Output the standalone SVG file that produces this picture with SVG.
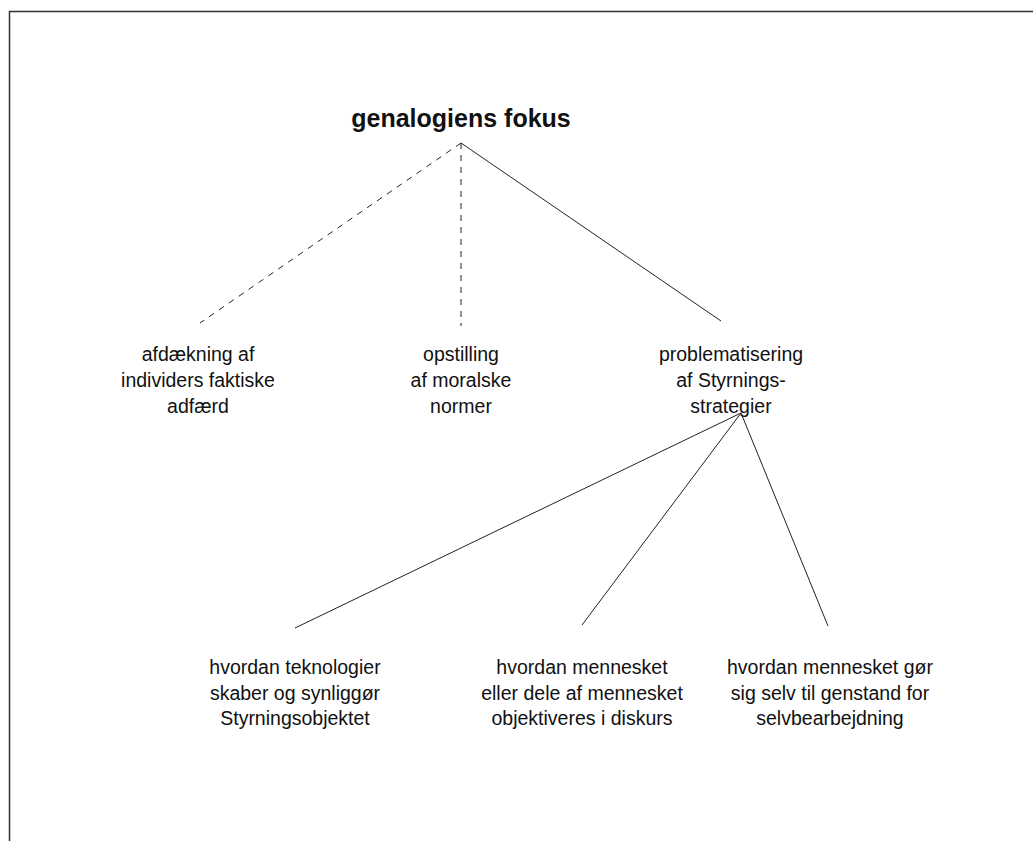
<svg xmlns="http://www.w3.org/2000/svg" width="1033" height="841" viewBox="0 0 1033 841">
<style>
.t{font-family:"Liberation Sans",Arial,sans-serif;font-size:19.5px;fill:#111;text-anchor:middle}
.h{font-family:"Liberation Sans",Arial,sans-serif;font-size:25px;font-weight:bold;fill:#111;text-anchor:middle}
.c{stroke:#222;stroke-width:1;fill:none}
.d{stroke-dasharray:6,6}
</style>
<rect width="1033" height="841" fill="#fff"/>
<g id="frame" stroke="#333" stroke-width="1.5" fill="none">
<line x1="9" y1="11.5" x2="1033" y2="11.5"/>
<line x1="9.5" y1="11" x2="9.5" y2="841"/>
</g>
<g id="connectors">
<line class="c d" x1="461" y1="143" x2="200" y2="323"/>
<line class="c d" x1="461" y1="143" x2="461" y2="326"/>
<line class="c" x1="461" y1="143" x2="721" y2="321"/>
<line class="c" x1="741" y1="413" x2="295" y2="628"/>
<line class="c" x1="741" y1="413" x2="582" y2="625"/>
<line class="c" x1="741" y1="413" x2="828" y2="626"/>
</g>
<g id="root"><text class="h" x="461" y="127">genalogiens fokus</text></g>
<g id="n1"><text class="t"><tspan x="198" y="361">afdækning af</tspan><tspan x="198" y="387">individers faktiske</tspan><tspan x="198" y="413">adfærd</tspan></text></g>
<g id="n2"><text class="t"><tspan x="461" y="361">opstilling</tspan><tspan x="461" y="387">af moralske</tspan><tspan x="461" y="413">normer</tspan></text></g>
<g id="n3"><text class="t"><tspan x="731" y="361">problematisering</tspan><tspan x="731" y="387">af Styrnings-</tspan><tspan x="731" y="413">strategier</tspan></text></g>
<g id="n4"><text class="t"><tspan x="295" y="674">hvordan teknologier</tspan><tspan x="295" y="700">skaber og synliggør</tspan><tspan x="295" y="725">Styrningsobjektet</tspan></text></g>
<g id="n5"><text class="t"><tspan x="582" y="674">hvordan mennesket</tspan><tspan x="582" y="700">eller dele af mennesket</tspan><tspan x="582" y="725">objektiveres i diskurs</tspan></text></g>
<g id="n6"><text class="t"><tspan x="830" y="674">hvordan mennesket gør</tspan><tspan x="830" y="700">sig selv til genstand for</tspan><tspan x="830" y="725">selvbearbejdning</tspan></text></g>
</svg>
